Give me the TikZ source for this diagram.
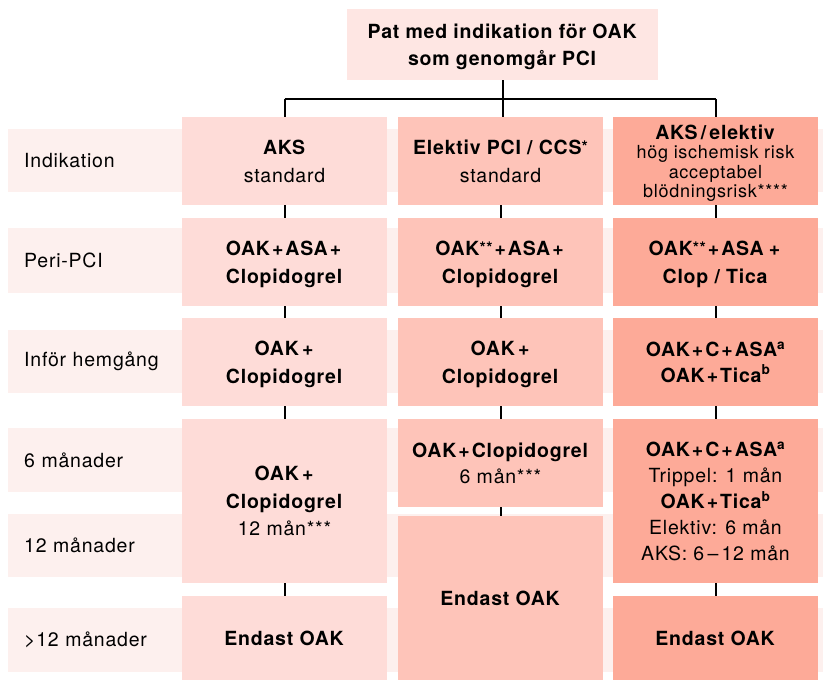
\documentclass[tikz,border=0pt]{standalone}
\usepackage{fontspec}
\setmainfont{TeX Gyre Heros}[LetterSpace=4]

\definecolor{bandpink}{HTML}{FDF0EE}
\definecolor{toppink}{HTML}{FEE6E3}
\definecolor{colA}{HTML}{FEDCD8}
\definecolor{colB}{HTML}{FEC4B9}
\definecolor{colC}{HTML}{FDAA98}

% small raised asterisks and a tight plus sign
\newcommand{\sast}[1]{\raisebox{2pt}{\fontsize{16}{16}\selectfont #1}}
\newcommand{\pl}{\kern2pt+\kern2pt}

\tikzset{
  txt/.style={font=\fontsize{19.5}{27.5}\selectfont},
  band/.style={fill=bandpink, anchor=north west, minimum width=815pt,
               minimum height=63pt, inner xsep=16pt, inner ysep=0pt,
               text width=783pt, align=left, txt},
  box/.style={anchor=north, minimum width=205pt, inner sep=0pt,
              text depth=0pt, align=center, txt},
  conn/.style={line width=2pt, black},
}

\begin{document}
\begin{tikzpicture}[x=1pt,y=-1pt]
\useasboundingbox (0,0) rectangle (823,680);

% row bands with their labels
\node[band] (l1) at (8,129) {Indikation};
\node[band, minimum height=65pt] (l2) at (8,228) {Peri-PCI};
\node[band] (l3) at (8,330) {Inför hemgång};
\node[band, minimum height=64pt] (l4) at (8,428) {6 månader};
\node[band] (l5) at (8,514) {12 månader};
\node[band, minimum height=64pt] (l6) at (8,608) {>12 månader};

% top box
\node[box, fill=toppink, minimum width=311pt, minimum height=71pt] (top) at (502.5,9)
  {\textbf{Pat med indikation för OAK}\\\textbf{som genomgår PCI}};

% column 1: AKS
\node[box, fill=colA, minimum height=88pt] (a1) at (284.5,117)
  {\textbf{AKS}\\standard};
\node[box, fill=colA, minimum height=88pt] (a2) at (284.5,218)
  {\textbf{OAK\pl ASA\pl}\\\textbf{Clopidogrel}};
\node[box, fill=colA, minimum height=88pt] (a3) at (284.5,318)
  {\textbf{OAK\,+}\\\textbf{Clopidogrel}};
\node[box, fill=colA, minimum height=164pt] (a4) at (284.5,419)
  {\textbf{OAK\,+}\\\textbf{Clopidogrel}\\12 mån***};
\node[box, fill=colA, minimum height=84pt] (a5) at (284.5,596)
  {\textbf{Endast OAK}};

% column 2: elective PCI / CCS
\node[box, fill=colB, minimum height=88pt] (b1) at (500.5,117)
  {\textbf{Elektiv PCI / CCS\sast{*}}\\standard};
\node[box, fill=colB, minimum height=88pt] (b2) at (500.5,218)
  {\textbf{OAK\sast{**}\pl ASA\pl}\\\textbf{Clopidogrel}};
\node[box, fill=colB, minimum height=88pt] (b3) at (500.5,318)
  {\textbf{OAK\,+}\\\textbf{Clopidogrel}};
\node[box, fill=colB, minimum height=88pt] (b4) at (500.5,419)
  {\textbf{OAK\pl Clopidogrel}\\[-2pt]6 mån***};
\node[box, fill=colB, minimum height=164pt] (b5) at (500.5,516)
  {\textbf{Endast OAK}};

% column 3: high ischaemic risk
\node[box, fill=colC, minimum height=88pt, font=\fontsize{18}{19.5}\selectfont] (c1) at (715.5,117)
  {{\fontsize{19.5}{19.5}\selectfont\textbf{AKS\,/\,elektiv}}\\hög ischemisk risk\\acceptabel\\blödningsrisk****};
\node[box, fill=colC, minimum height=88pt] (c2) at (715.5,218)
  {\textbf{OAK\sast{**}\pl ASA\,\pl}\\\textbf{Clop / Tica}};
\node[box, fill=colC, minimum height=88pt] (c3) at (715.5,318)
  {\textbf{OAK\pl C\pl ASA\textsuperscript{a}}\\[-2pt]\textbf{OAK\pl Tica\textsuperscript{b}}};
\node[box, fill=colC, minimum height=164pt, font=\fontsize{19.5}{26}\selectfont] (c4) at (715.5,419)
  {\textbf{OAK\pl C\pl ASA\textsuperscript{a}}\\Trippel: 1 mån\\\textbf{OAK\pl Tica\textsuperscript{b}}\\Elektiv: 6 mån\\AKS: 6\,--\,12 mån};
\node[box, fill=colC, minimum height=84pt] (c5) at (715.5,596)
  {\textbf{Endast OAK}};

% branching from the top box
\coordinate (hb) at (502.5,99);
\draw[conn] (top.south) -- (top.south |- b1.north);
\draw[conn] (a1.north |- hb) -- (c1.north |- hb);
\draw[conn] (a1.north |- hb) -- (a1.north);
\draw[conn] (c1.north |- hb) -- (c1.north);

% connectors within each column
\foreach \u/\v in {a1/a2,a2/a3,a3/a4,a4/a5,b1/b2,b2/b3,b3/b4,b4/b5,c1/c2,c2/c3,c3/c4,c4/c5}
  \draw[conn] (\u.south) -- (\v.north);
\end{tikzpicture}
\end{document}
